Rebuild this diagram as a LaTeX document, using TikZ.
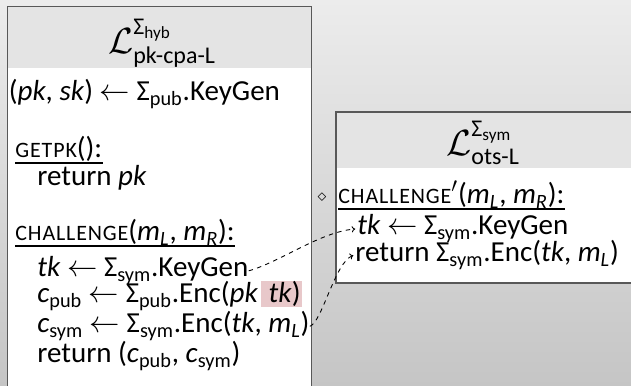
\documentclass[tikz,border=0pt]{standalone}
\usepackage{amsmath}
\usepackage{fontspec}
\setmainfont{Carlito}
\usetikzlibrary{arrows.meta}

\definecolor{bgtop}{HTML}{ECECEC}
\definecolor{bgbot}{HTML}{C5C5C5}
\definecolor{headgray}{HTML}{E4E4E4}
\definecolor{framegray}{HTML}{585858}
\definecolor{hilite}{RGB}{232,200,202}

\newcommand{\sv}[1]{\textit{#1}}
\newcommand{\Sig}[1]{Σ\textsubscript{#1}}
\newcommand{\pname}[1]{{\fontsize{12.5}{14}\selectfont\addfontfeature{LetterSpace=4}\MakeUppercase{#1}}}
\newcommand{\from}{$\leftarrow$}
% marked argument, shaded behind
\newcommand{\hlarg}[1]{{\setlength{\fboxsep}{0pt}\colorbox{hilite}{\rule[-2.3pt]{0pt}{14.8pt}\hspace{4.5pt}#1\hspace{0.6pt}}}}

\tikzset{
  code/.style={anchor=base west, inner sep=0pt, font=\fontsize{16.5}{19}\selectfont},
  libname/.style={inner sep=0pt, font=\fontsize{19.5}{22}\selectfont},
  frame/.style={draw=framegray, line width=1pt},
  link/.style={dashed, dash pattern=on 2.5pt off 2.5pt, line width=0.5pt, -{To[length=2pt,width=3.5pt]}, shorten >=1pt},
}

\begin{document}
\begin{tikzpicture}
\useasboundingbox (0,0) rectangle (12.62,-7.72);
\clip (0,0) rectangle (12.62,-7.72);
\shade[top color=bgtop, bottom color=bgbot] (0,0) rectangle (12.62,-7.72);

% hybrid library
\fill[white] (0.15,-1.36) rectangle (6.23,-8);
\fill[headgray] (0.15,-0.13) rectangle (6.23,-1.36);
\draw[frame] (0.15,-8) -- (0.15,-0.13) -- (6.23,-0.13) -- (6.23,-8);
\node[libname] (hybT) at (3.24,-0.86) {$\mathcal{L}^{\text{Σ}_{\text{hyb}}}_{\text{pk-cpa-L}}$};

\node[code] (keygenL) at (0.17,-2.02) {(\sv{pk}, \sv{sk}) \from{} \Sig{pub}.KeyGen};
\node[code] (getpk) at (0.30,-3.16) {\pname{getpk}():};
\draw[line width=0.8pt] ([yshift=-0.1cm]getpk.base west) -- ([yshift=-0.1cm]getpk.base east);
\node[code] (retpk) at (0.74,-3.72) {return \sv{pk}};

\node[code] (chal) at (0.30,-4.82) {\pname{challenge}(\sv{m}\textsubscript{\sv{L}}, \sv{m}\textsubscript{\sv{R}}):};
\draw[line width=0.8pt] ([yshift=-0.1cm]chal.base west) -- ([yshift=-0.1cm]chal.base east);
\node[code] (tkL) at (0.74,-5.54) {\sv{tk} \from{} \Sig{sym}.KeyGen};
\node[code] (cpub) at (0.74,-6.06) {\sv{c}\textsubscript{pub} \from{} \Sig{pub}.Enc(\sv{pk}\hspace{1.5pt}\hlarg{\sv{tk})}};
\node[code] (csym) at (0.74,-6.66) {\sv{c}\textsubscript{sym} \from{} \Sig{sym}.Enc(\sv{tk}, \sv{m}\textsubscript{\sv{L}})};
\node[code] (ret) at (0.74,-7.26) {return (\sv{c}\textsubscript{pub}, \sv{c}\textsubscript{sym})};

% link operator
\node[inner sep=0pt] (op) at (6.44,-3.96) {$\diamond$};

% one-time secrecy library
\fill[white] (6.72,-3.36) rectangle (13,-5.66);
\fill[headgray] (6.72,-2.24) rectangle (13,-3.36);
\draw[frame] (13,-5.66) -- (6.72,-5.66) -- (6.72,-2.24) -- (13,-2.24);
\node[libname] (otsT) at (9.66,-2.86) {$\mathcal{L}^{\text{Σ}_{\text{sym}}}_{\text{ots-L}}$};

\node[code] (chalR) at (6.76,-4.08) {\pname{challenge}$'$(\sv{m}\textsubscript{\sv{L}}, \sv{m}\textsubscript{\sv{R}}):};
\draw[line width=0.8pt] ([yshift=-0.1cm]chalR.base west) -- ([yshift=-0.1cm]chalR.base east);
\node[code] (tkR) at (7.14,-4.70) {\sv{tk} \from{} \Sig{sym}.KeyGen};
\node[code] (retR) at (7.10,-5.23) {return \Sig{sym}.Enc(\sv{tk}, \sv{m}\textsubscript{\sv{L}})};

% inlined calls
\draw[link] (tkL.east) .. controls (5.6,-5.24) and (6.4,-4.64) .. (tkR.west);
\draw[link] (csym.east) .. controls (6.44,-6.45) and (6.7,-5.24) .. (retR.west);
\end{tikzpicture}
\end{document}
